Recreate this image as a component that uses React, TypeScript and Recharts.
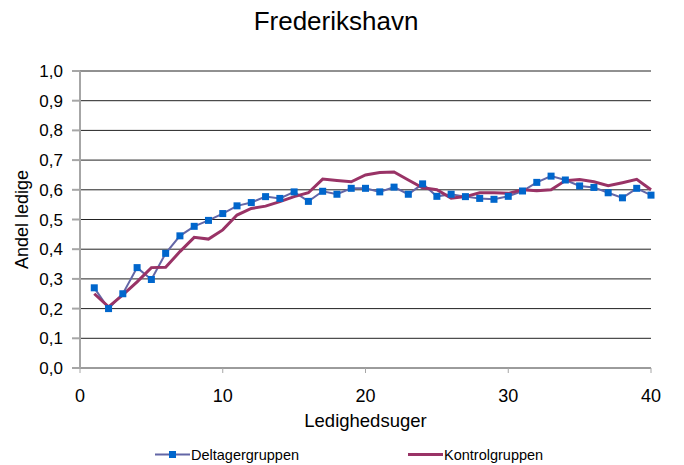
import React from 'react';
import { LineChart, Line, XAxis, YAxis, CartesianGrid, Legend } from 'recharts';

const weeks = [1,2,3,4,5,6,7,8,9,10,11,12,13,14,15,16,17,18,19,20,21,22,23,24,25,26,27,28,29,30,31,32,33,34,35,36,37,38,39,40];
const deltager = [0.27,0.20,0.25,0.338,0.298,0.386,0.445,0.477,0.497,0.52,0.546,0.557,0.577,0.571,0.593,0.561,0.595,0.585,0.605,0.605,0.593,0.609,0.585,0.62,0.578,0.585,0.577,0.571,0.568,0.578,0.596,0.625,0.646,0.633,0.613,0.608,0.59,0.573,0.605,0.582];
const kontrol = [0.25,0.206,0.246,0.29,0.338,0.339,0.392,0.44,0.434,0.465,0.515,0.537,0.545,0.56,0.577,0.59,0.636,0.631,0.627,0.65,0.658,0.66,0.633,0.607,0.60,0.572,0.577,0.59,0.59,0.588,0.60,0.597,0.60,0.631,0.635,0.627,0.614,0.624,0.635,0.60];
const xTicks = [0,10,20,30,40];
const yTicks = [0,0.1,0.2,0.3,0.4,0.5,0.6,0.7,0.8,0.9,1.0];
const seriesNames = ['Deltagergruppen','Kontrolgruppen'];

const data = weeks.map((w, i) => ({ week: w, d: deltager[i], k: kontrol[i] }));

const FONT = '"Liberation Sans", Arial, sans-serif';
const DCOL = '#6366A6';
const DMARK = '#0066CC';
const KCOL = '#993366';

const SquareDot = (props: any) => {
  const { cx, cy } = props;
  if (cx == null || cy == null) return null;
  return <rect x={cx - 3.5} y={cy - 3.5} width={7} height={7} fill={DMARK} />;
};

const LegendContent = () => (
  <div style={{ position: 'relative', width: 684, height: 24, fontFamily: FONT, fontSize: 14.5, color: '#000' }}>
    <svg width={684} height={24} style={{ position: 'absolute', left: 0, top: 0 }}>
      <line x1={155} x2={190} y1={11.5} y2={11.5} stroke={DCOL} strokeWidth={2} />
      <rect x={169} y={8} width={7} height={7} fill={DMARK} />
      <line x1={408} x2={443} y1={11.5} y2={11.5} stroke={KCOL} strokeWidth={3} />
      <text x={191} y={16.5} fontFamily={FONT} fontSize={14.5} fill="#000">{seriesNames[0]}</text>
      <text x={444} y={16.5} fontFamily={FONT} fontSize={14.5} fill="#000">{seriesNames[1]}</text>
    </svg>
  </div>
);

export default function App() {
  return (
    <div style={{ position: 'absolute', left: 0, top: 0, width: 684, height: 465, background: '#fff' }}>
      <div style={{ position: 'absolute', left: 0, top: 6, width: 672, textAlign: 'center', fontFamily: FONT, fontSize: 26, color: '#000', lineHeight: '30px' }}>
        Frederikshavn
      </div>
      <LineChart width={684} height={465} data={data} margin={{ top: 71, right: 33, bottom: 0, left: 0 }}>
        <CartesianGrid horizontal={true} vertical={false} stroke="#222" strokeWidth={1} />
        <XAxis
          dataKey="week"
          type="number"
          domain={[0, 40]}
          ticks={xTicks}
          height={97}
          tickSize={5}
          tickMargin={16}
          stroke="#a6a6a6"
          tick={{ fill: '#000', fontSize: 18, fontFamily: FONT }}
          label={{ value: 'Ledighedsuger', position: 'insideBottom', offset: 38, fill: '#000', fontSize: 18.5, fontFamily: FONT }}
        />
        <YAxis
          type="number"
          domain={[0, 1]}
          ticks={yTicks}
          width={80}
          tickSize={8}
          tickMargin={9}
          stroke="#a6a6a6"
          strokeWidth={2}
          tick={{ fill: '#000', fontSize: 17, fontFamily: FONT }}
          tickFormatter={(v: number) => v.toFixed(1).replace('.', ',')}
          label={{ value: 'Andel ledige', angle: -90, position: 'insideLeft', offset: 22, fill: '#000', fontSize: 18, fontFamily: FONT, style: { textAnchor: 'middle' } }}
        />
        <Legend layout="horizontal" verticalAlign="middle" align="center" wrapperStyle={{ top: 443, left: 0, width: 684 }} content={<LegendContent />} />
        <Line type="linear" dataKey="d" name={seriesNames[0]} stroke={DCOL} strokeWidth={2} dot={<SquareDot />} activeDot={false} isAnimationActive={false} />
        <Line type="linear" dataKey="k" name={seriesNames[1]} stroke={KCOL} strokeWidth={3} dot={false} activeDot={false} isAnimationActive={false} />
      </LineChart>
    </div>
  );
}
